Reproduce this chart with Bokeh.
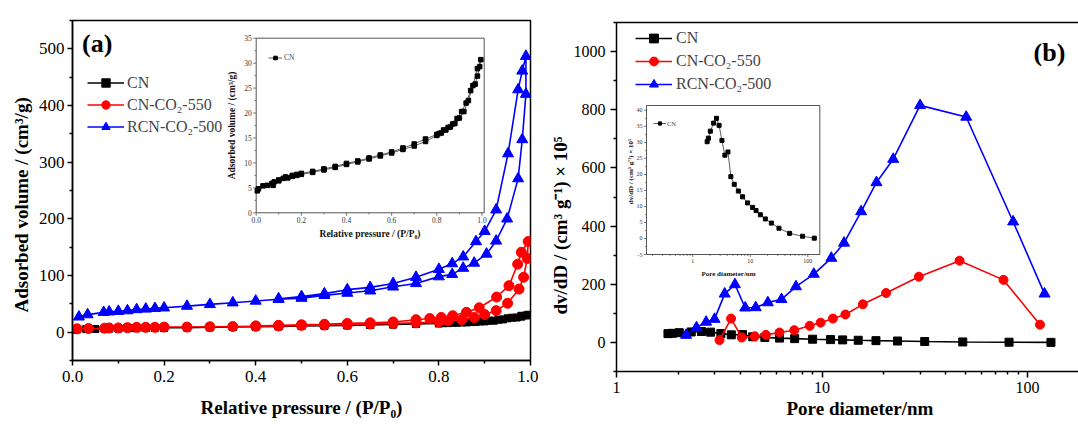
import math
from bokeh.plotting import figure
from bokeh.models import (Range1d, LogAxis, FixedTicker, NumeralTickFormatter, Legend,
                          LegendItem, Label, LinearScale, LogScale, Title)
from bokeh.core.properties import value
from bokeh.embed import file_html
from bokeh.resources import INLINE

FONT = "Liberation Serif"
BLACK, RED, BLUE = "#000000", "#ff0000", "#0000ff"

# ---------------- panel (a): N2 isotherms (P/P0, cm3/g) ----------------
cn_ads_p = [0.005, 0.03, 0.05, 0.075, 0.1, 0.12, 0.14, 0.16, 0.18, 0.2, 0.25, 0.3, 0.35, 0.4, 0.45,
            0.5, 0.55, 0.6, 0.65, 0.7, 0.75, 0.8, 0.82, 0.84, 0.86, 0.88, 0.9, 0.92, 0.94, 0.96, 0.98, 0.995]
cn_ads_v = [4.4, 5.4, 5.5, 5.5, 6.4, 6.9, 7.0, 7.3, 7.5, 7.7, 8.1, 8.6, 9.1, 9.7, 10.2,
            10.8, 11.4, 12.0, 12.7, 13.4, 14.3, 15.5, 16.0, 16.6, 17.2, 17.9, 19.0, 20.3, 22.5, 25.5, 28.9, 30.7]
cn_des_p = [0.99, 0.98, 0.97, 0.95, 0.93, 0.91, 0.89, 0.87, 0.85, 0.83, 0.81, 0.8, 0.75, 0.7, 0.65,
            0.6, 0.55, 0.5, 0.45, 0.4, 0.35, 0.3, 0.25, 0.2, 0.18, 0.16, 0.13, 0.1, 0.08, 0.07, 0.01]
cn_des_v = [29.3, 27.4, 25.8, 24.5, 22.0, 20.3, 18.9, 17.8, 17.1, 16.6, 15.9, 15.7, 14.8, 13.8, 13.0,
            12.2, 11.6, 11.0, 10.4, 9.9, 9.3, 8.8, 8.3, 7.9, 7.7, 7.5, 7.2, 6.6, 6.2, 5.9, 4.8]

r550_ads_p = [0.01, 0.035, 0.07, 0.08, 0.1, 0.12, 0.14, 0.16, 0.18, 0.2, 0.25, 0.3, 0.35, 0.4, 0.45,
              0.5, 0.55, 0.6, 0.65, 0.7, 0.75, 0.8, 0.82, 0.85, 0.877, 0.9, 0.925, 0.95, 0.975, 0.985, 0.993]
r550_ads_v = [6, 6.5, 7, 7.5, 7.5, 8, 8.5, 8.5, 8.5, 9, 9, 9.5, 10, 10.5, 11,
              12, 12.5, 13.5, 14.5, 15.5, 16.5, 18, 20, 22, 26, 31, 38, 51, 76, 97, 130]
r550_des_p = [0.995, 0.98, 0.972, 0.953, 0.926, 0.888, 0.86, 0.83, 0.805, 0.78, 0.75, 0.7, 0.65,
              0.6, 0.55, 0.5, 0.45, 0.4]
r550_des_v = [160, 141, 120, 82, 62, 43, 35, 29, 26, 24, 22, 18, 16.5, 15.5, 14, 13, 12, 11]

r500_ads_p = [0.014, 0.033, 0.068, 0.08, 0.1, 0.12, 0.14, 0.16, 0.18, 0.2, 0.25, 0.3, 0.35, 0.4, 0.45,
              0.5, 0.55, 0.6, 0.65, 0.7, 0.75, 0.8, 0.829, 0.853, 0.877, 0.904, 0.925, 0.949, 0.973, 0.982, 0.99]
r500_ads_v = [27, 31, 35, 36, 37, 38, 40, 41, 42, 43, 46, 49, 52, 55, 58,
              60, 65, 69, 73, 80, 86, 98, 102, 113, 122, 138, 161, 200, 271, 340, 420]
r500_des_p = [0.99, 0.982, 0.973, 0.951, 0.925, 0.9, 0.881, 0.853, 0.829, 0.8, 0.75, 0.7, 0.65,
              0.6, 0.55, 0.5, 0.45]
r500_des_v = [487, 461, 428, 315, 216, 178, 160, 133, 121, 111, 97, 86, 79, 75, 68, 63, 59]

# ---------------- panel (b): pore size distribution ----------------
psd_cn_d = [1.78, 1.87, 2.02, 2.31, 2.59, 2.87, 3.22, 3.62, 4.1, 4.6, 5.27, 6.21, 7.36, 9.0, 11.0,
            12.6, 15.0, 18.3, 23.3, 31.6, 48.4, 81.3, 130]
psd_cn_v = [30.2, 31.3, 33.5, 36, 37.5, 35.3, 30.6, 26, 27, 19.3, 16.9, 14.8, 13, 11.1, 9.7,
            8.7, 7.4, 6.1, 4.8, 3.2, 1.6, 0.7, 0.1]
psd_r550_d = [3.17, 3.61, 4.07, 4.71, 5.33, 6.21, 7.33, 8.71, 9.85, 11.3, 13.0, 15.8, 20.5, 29.6, 46.7, 76.4, 115]
psd_r550_v = [8, 82, 17, 21, 26, 34, 42, 57, 68, 82, 96, 131, 170, 226, 281, 215, 61]
psd_r500_d = [2.18, 2.45, 2.73, 3.0, 3.36, 3.77, 4.23, 4.76, 5.45, 6.35, 7.47, 9.12, 11.1, 12.8, 15.5,
              18.4, 22.2, 30.0, 50.3, 85.1, 121]
psd_r500_v = [25, 51, 70, 80, 167, 199, 119, 120, 137, 148, 192, 235, 290, 342, 450,
              550, 630, 815, 775, 415, 167]

# ---------------- ticks / labels ----------------
a_xticks = [0.0, 0.2, 0.4, 0.6, 0.8, 1.0]
a_xminor = [0.1, 0.3, 0.5, 0.7, 0.9]
a_yticks = [0, 100, 200, 300, 400, 500]
a_yminor = [-50, 50, 150, 250, 350, 450, 550]
b_xticks = [1, 10, 100]
b_xminor = [2, 3, 4, 5, 6, 7, 8, 9, 20, 30, 40, 50, 60, 70, 80, 90]
b_yticks = [0, 200, 400, 600, 800, 1000]
b_yminor = [-100, 100, 300, 500, 700, 900, 1100]
ia_xticks = [0.0, 0.2, 0.4, 0.6, 0.8, 1.0]
ia_xlabels = ["0.0", "0.2", "0.4", "0.6", "0.8", "1.0"]
ia_xminor = [0.1, 0.3, 0.5, 0.7, 0.9]
ia_yticks = [0, 5, 10, 15, 20, 25, 30, 35]
ia_yminor = [2.5, 7.5, 12.5, 17.5, 22.5, 27.5, 32.5]
ib_xticks = [1, 10, 100]
ib_xlabels = ["1", "10", "100"]
ib_xminor = [0.2, 0.3, 0.4, 0.5, 0.6, 0.7, 0.8, 0.9, 2, 3, 4, 5, 6, 7, 8, 9, 20, 30, 40, 50, 60, 70, 80, 90]
ib_yticks = [-5, 0, 5, 10, 15, 20, 25, 30, 35, 40]
ib_yminor = [-2.5, 2.5, 7.5, 12.5, 17.5, 22.5, 27.5, 32.5, 37.5]

LBL_CN, LBL_550, LBL_500 = "CN", "CN-CO\u2082-550", "RCN-CO\u2082-500"
XT_A = "Relative pressure / (P/P\u2080)"
YT_A = "Adsorbed volume / (cm\u00b3/g)"
XT_B = "Pore diameter/nm"
YT_B = "dv/dD / (cm\u00b3 g\u207b\u00b9) \u00d7 10\u2075"

# ---------------- layout (page px; Bokeh's page has no body margin) ----------------
A_LEFT = 0
A_W, A_H = 538, 424
A_BL, A_BR, A_BT, A_BB = 72, 8, 20, 64
B_LEFT = A_LEFT + A_W
B_W, B_H = 540, 424
B_BL, B_BR, B_BT, B_BB = 78, 0, 22, 53
A_MAIN = (A_LEFT + A_BL, A_LEFT + A_W - A_BR, A_BT, A_H - A_BB)
B_MAIN = (B_LEFT + B_BL, B_LEFT + B_W - B_BR, B_BT, B_H - B_BB)
A_X, A_Y = (0.0, 1.0), (-50, 550)
B_X, B_Y = (1, 177), (-100, 1100)


def main_data(main, xr, yr, px, py, xlog=False):
    L, R, T, B = main
    if xlog:
        l0, l1 = math.log10(xr[0]), math.log10(xr[1])
        x = 10 ** (l0 + (px - L) / (R - L) * (l1 - l0))
    else:
        x = xr[0] + (px - L) / (R - L) * (xr[1] - xr[0])
    y = yr[0] + (B - py) / (B - T) * (yr[1] - yr[0])
    return x, y


class Inset:
    def __init__(self, frame, dx, dy, main, xlog=False):
        self.f, self.dx, self.dy, self.main, self.xlog = frame, dx, dy, main, xlog

    def x_at(self, px):
        L, R, T, B = self.f
        if self.xlog:
            t0, t1 = math.log10(self.dx[0]), math.log10(self.dx[1])
            return 10 ** (t0 + (px - L) * (t1 - t0) / (R - L))
        return self.dx[0] + (px - L) * (self.dx[1] - self.dx[0]) / (R - L)

    def y_at(self, py):
        L, R, T, B = self.f
        return self.dy[0] + (B - py) * (self.dy[1] - self.dy[0]) / (B - T)

    def ranges(self):
        L, R, T, B = self.main
        return Range1d(self.x_at(L), self.x_at(R)), Range1d(self.y_at(B), self.y_at(T))


def style_axis(ax, tick_out, minor_out, standoff, size):
    ax.axis_line_width = 1.5
    ax.axis_line_color = BLACK
    ax.major_tick_line_width = 1.5
    ax.minor_tick_line_width = 1.5
    ax.major_tick_in = 0
    ax.minor_tick_in = 0
    ax.major_tick_out = tick_out
    ax.minor_tick_out = minor_out
    ax.major_label_text_font = FONT
    ax.major_label_text_font_size = size
    ax.major_label_text_color = BLACK
    ax.major_label_standoff = standoff
    ax.axis_label_text_font = FONT
    ax.axis_label_text_font_size = "19px"
    ax.axis_label_text_font_style = "bold"
    ax.axis_label_text_color = BLACK


def side_title(text, offset, standoff):
    # align="left": text starts at panel start + offset (bottom end for a left-side title)
    return Title(text=text, align="left", vertical_align="bottom", offset=offset,
                 standoff=standoff, text_font=FONT, text_font_size="19px",
                 text_font_style="bold", text_color=BLACK)


def draw_inset(p, name, ins, xticks, xlabels, xminor, yticks, yminor, tick_size, title_size,
               xtitle, ytitle, xt_px, yt_px, xoff, yoff, tick_len):
    xr, yr = ins.ranges()
    p.extra_x_ranges[name] = xr
    p.extra_y_ranges[name] = yr
    p.extra_x_scales[name] = LogScale() if ins.xlog else LinearScale()
    p.extra_y_scales[name] = LinearScale()
    kw = dict(x_range_name=name, y_range_name=name)
    x0, x1 = ins.dx
    y0, y1 = ins.dy
    p.quad(left=[x0], right=[x1], bottom=[y0], top=[y1], fill_color="white",
           line_color="#555555", line_width=1, **kw)
    for ticks, frac in ((xticks, 1.0), (xminor, 0.55)):
        p.ray(x=ticks, y=[y0] * len(ticks), length=tick_len * frac, angle=-math.pi / 2,
              length_units="screen", line_color="#555555", line_width=0.8, **kw)
    for ticks, frac in ((yticks, 1.0), (yminor, 0.55)):
        p.ray(x=[x0] * len(ticks), y=ticks, length=tick_len * frac, angle=math.pi,
              length_units="screen", line_color="#555555", line_width=0.8, **kw)
    p.text(x=xticks, y=[y0] * len(xticks), text=xlabels, y_offset=yoff, text_align="center",
           text_baseline="top", text_font=value(FONT), text_font_size=tick_size,
           text_color="#333333", **kw)
    p.text(x=[x0] * len(yticks), y=yticks, text=[str(t) for t in yticks], x_offset=xoff,
           text_align="right", text_baseline="middle", text_font=value(FONT),
           text_font_size=tick_size, text_color="#333333", **kw)
    p.text(x=[ins.x_at(xt_px[0])], y=[ins.y_at(xt_px[1])], text=[xtitle], text_align="center",
           text_baseline="middle", text_font=value(FONT), text_font_size=title_size,
           text_font_style="bold", text_color="#111111", **kw)
    p.text(x=[ins.x_at(yt_px[0])], y=[ins.y_at(yt_px[1])], text=[ytitle], angle=math.pi / 2,
           text_align="center", text_baseline="middle", text_font=value(FONT),
           text_font_size=title_size, text_font_style="bold", text_color="#111111", **kw)
    return kw


# ======================= panel (a) =======================
p1 = figure(width=A_W, height=A_H, x_range=Range1d(*A_X), y_range=Range1d(*A_Y),
            output_backend="svg", toolbar_location=None,
            min_border_left=A_BL, min_border_right=A_BR, min_border_top=A_BT,
            min_border_bottom=A_BB,
            styles={"position": "absolute", "left": "%dpx" % A_LEFT, "top": "0px"})
p1.grid.visible = False
p1.outline_line_color = BLACK
p1.outline_line_width = 1.5
p1.background_fill_color = "white"
p1.border_fill_color = "white"
style_axis(p1.xaxis[0], 5, 3, 5, "17px")
style_axis(p1.yaxis[0], 5, 3, 3, "17px")
p1.xaxis.ticker = FixedTicker(ticks=a_xticks, minor_ticks=a_xminor)
p1.xaxis.formatter = NumeralTickFormatter(format="0.0")
p1.yaxis.ticker = FixedTicker(ticks=a_yticks, minor_ticks=a_yminor)
p1.xaxis.axis_label = XT_A
p1.xaxis.axis_label_standoff = 12
p1.add_layout(side_title(YT_A, 48, 8), "left")

cn_x = cn_ads_p + cn_des_p
cn_y = cn_ads_v + cn_des_v
r550_x = r550_ads_p + r550_des_p
r550_y = r550_ads_v + r550_des_v
r500_x = r500_ads_p + r500_des_p
r500_y = r500_ads_v + r500_des_v

la1 = p1.line(cn_x, cn_y, line_color=BLACK, line_width=1.6)
sa1 = p1.scatter(cn_x, cn_y, marker="square", size=7, color=BLACK)
la2 = p1.line(r550_x, r550_y, line_color=RED, line_width=1.6)
sa2 = p1.scatter(r550_x, r550_y, marker="circle", size=10, color=RED)
la3 = p1.line(r500_x, r500_y, line_color=BLUE, line_width=1.6)
sa3 = p1.scatter(r500_x, r500_y, marker="triangle", size=11, color=BLUE)

leg_a = Legend(items=[LegendItem(label=LBL_CN, renderers=[la1, sa1]),
                      LegendItem(label=LBL_550, renderers=[la2, sa2]),
                      LegendItem(label=LBL_500, renderers=[la3, sa3])],
               location=(15, 223), glyph_width=37, glyph_height=21, label_height=21, spacing=1,
               padding=0, margin=0, label_standoff=3, label_text_font=FONT,
               label_text_font_size="16px", border_line_color=None, background_fill_alpha=0)
p1.add_layout(leg_a)

# inset (a)
ins_a = Inset((255.7, 483.7, 37.7, 212.3), (0.0, 1.01), (0.0, 35.0), A_MAIN)
kw_a = draw_inset(p1, "ia", ins_a, ia_xticks, ia_xlabels, ia_xminor, ia_yticks, ia_yminor,
                  "7.5px", "9.5px", XT_A, YT_A, (369.5, 233.3), (231.0, 125.0), -4.5, 4, 3)
il_a = p1.line(cn_x, cn_y, line_color="#333333", line_width=0.8, **kw_a)
is_a = p1.scatter(cn_x, cn_y, marker="square", size=4.5, color=BLACK, **kw_a)
leg_ia = Legend(items=[LegendItem(label=LBL_CN, renderers=[il_a, is_a])],
                location=(196, 298), glyph_width=14, glyph_height=9, label_height=9, spacing=0,
                padding=0, margin=0, label_standoff=2, label_text_font=FONT,
                label_text_font_size="7.5px", border_line_color=None, background_fill_alpha=0)
p1.add_layout(leg_ia)

ax_, ay_ = main_data(A_MAIN, A_X, A_Y, 81.5, 42.5)
p1.add_layout(Label(x=ax_, y=ay_, text="(a)", text_font=FONT, text_font_size="26px",
                    text_font_style="bold", text_color=BLACK, text_align="left",
                    text_baseline="middle"))

# ======================= panel (b) =======================
p2 = figure(width=B_W, height=B_H, x_axis_type="log", x_range=Range1d(*B_X),
            y_range=Range1d(*B_Y), output_backend="svg", toolbar_location=None,
            min_border_left=B_BL, min_border_right=B_BR, min_border_top=B_BT,
            min_border_bottom=B_BB,
            styles={"position": "absolute", "left": "%dpx" % B_LEFT, "top": "0px"})
p2.grid.visible = False
p2.outline_line_color = None
p2.background_fill_color = "white"
p2.border_fill_color = "white"
style_axis(p2.xaxis[0], 6, 3, 4, "16px")
style_axis(p2.yaxis[0], 6, 3, 5, "16px")
p2.xaxis.ticker = FixedTicker(ticks=b_xticks, minor_ticks=b_xminor)
p2.xaxis.formatter = NumeralTickFormatter(format="0")
p2.yaxis.ticker = FixedTicker(ticks=b_yticks, minor_ticks=b_yminor)
top_ax = LogAxis(ticker=FixedTicker(ticks=[], minor_ticks=[]), major_label_text_font_size="0px",
                 major_tick_out=0, minor_tick_out=0, major_label_standoff=0,
                 axis_line_width=1.5, axis_line_color=BLACK)
p2.add_layout(top_ax, "above")
p2.add_layout(side_title(XT_B, 170, 0), "below")
p2.add_layout(side_title(YT_B, 57, 0), "left")

lb1 = p2.line(psd_cn_d, psd_cn_v, line_color=BLACK, line_width=1.6)
sb1 = p2.scatter(psd_cn_d, psd_cn_v, marker="square", size=8, color=BLACK)
lb2 = p2.line(psd_r550_d, psd_r550_v, line_color=RED, line_width=1.6)
sb2 = p2.scatter(psd_r550_d, psd_r550_v, marker="circle", size=9, color=RED)
lb3 = p2.line(psd_r500_d, psd_r500_v, line_color=BLUE, line_width=1.6)
sb3 = p2.scatter(psd_r500_d, psd_r500_v, marker="triangle", size=11, color=BLUE)

leg_b = Legend(items=[LegendItem(label=LBL_CN, renderers=[lb1, sb1]),
                      LegendItem(label=LBL_550, renderers=[lb2, sb2]),
                      LegendItem(label=LBL_500, renderers=[lb3, sb3])],
               location=(19, 276), glyph_width=37, glyph_height=22, label_height=22, spacing=1,
               padding=0, margin=0, label_standoff=4, label_text_font=FONT,
               label_text_font_size="16px", border_line_color=None, background_fill_alpha=0)
p2.add_layout(leg_b)

# inset (b)
ins_b = Inset((646.0, 819.3, 105.0, 254.0), (0.157, 162.0), (-5.0, 41.5), B_MAIN, xlog=True)
kw_b = draw_inset(p2, "ib", ins_b, ib_xticks, ib_xlabels, ib_xminor, ib_yticks, ib_yminor,
                  "6px", "7px", XT_B, YT_B, (728.0, 273.3), (630.0, 171.0), -4, 4.5, 2.5)
il_b = p2.line(psd_cn_d, psd_cn_v, line_color="#333333", line_width=0.8, **kw_b)
is_b = p2.scatter(psd_cn_d, psd_cn_v, marker="square", size=4, color=BLACK, **kw_b)
leg_ib = Legend(items=[LegendItem(label=LBL_CN, renderers=[il_b, is_b])],
                location=(37, 244), glyph_width=13, glyph_height=8, label_height=8, spacing=0,
                padding=0, margin=0, label_standoff=1, label_text_font=FONT,
                label_text_font_size="6.5px", border_line_color=None, background_fill_alpha=0)
p2.add_layout(leg_ib)

bx, by = main_data(B_MAIN, B_X, B_Y, 1049, 52, xlog=True)
p2.add_layout(Label(x=bx, y=by, text="(b)", text_font=FONT, text_font_size="26px",
                    text_font_style="bold", text_color=BLACK, text_align="center",
                    text_baseline="middle"))

open("out.html", "w").write(file_html([p1, p2], INLINE))
